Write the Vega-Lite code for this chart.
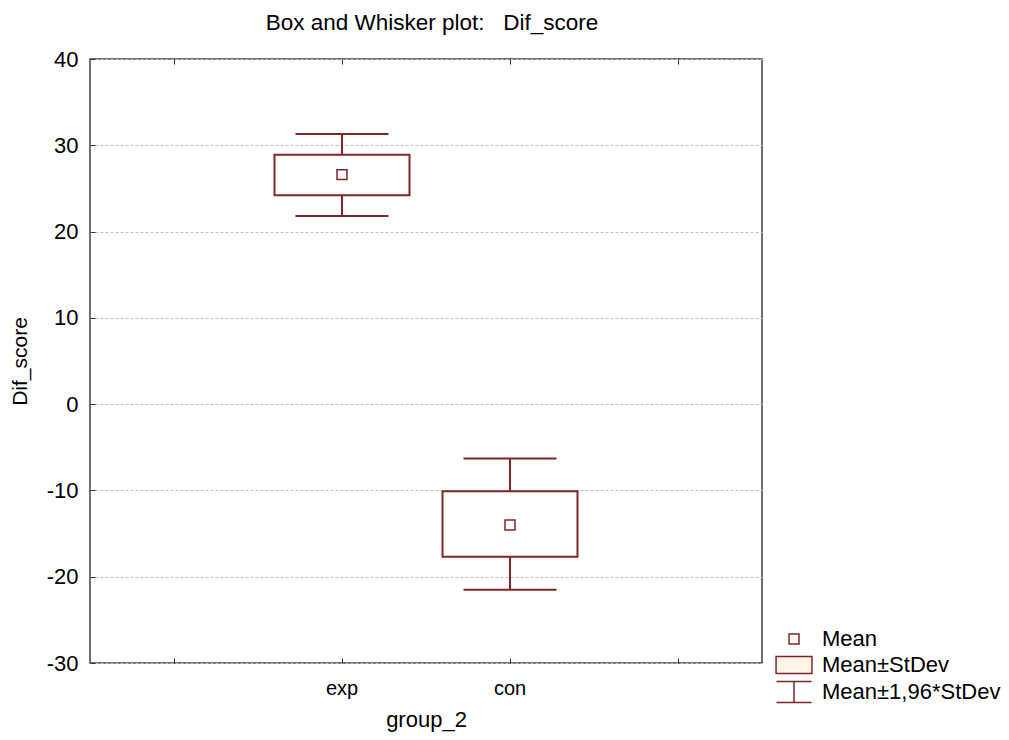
{
  "$schema": "https://vega.github.io/schema/vega-lite/v6.json",
  "width": 672,
  "height": 604,
  "autosize": {"type": "none"},
  "padding": {"left": 90, "top": 59, "right": 247, "bottom": 77},
  "background": "white",
  "title": {"text": "Box and Whisker plot:\u00a0\u00a0\u00a0Dif_score", "fontSize": 22.5, "font": "Liberation Sans", "fontWeight": "normal", "color": "#000", "offset": 14, "anchor": "middle", "dx": 6},
  "config": {
    "view": {"stroke": "#404040", "strokeWidth": 1.5},
    "axis": {"labelFont": "Liberation Sans", "titleFont": "Liberation Sans", "labelColor": "#000", "titleColor": "#000", "titleFontWeight": "normal", "tickColor": "#333", "domain": false},
    "legend": {"labelFont": "Liberation Sans", "labelFontSize": 22, "labelColor": "#000", "labelLimit": 400, "symbolStrokeWidth": 1.5, "symbolSize": 729, "rowPadding": 0, "labelOffset": 13.5, "padding": 0}
  },
  "data": {"values": [
    {"group": "exp", "mean": 26.6, "sdLow": 24.2, "sdHigh": 28.9, "wLow": 21.8, "wHigh": 31.3, "stat": "Mean"},
    {"group": "con", "mean": -14.0, "sdLow": -17.7, "sdHigh": -10.1, "wLow": -21.5, "wHigh": -6.3, "stat": "Mean"}
  ]},
  "resolve": {"axis": {"x": "independent"}},
  "layer": [
    {
      "mark": {"type": "rule", "color": "#802525", "strokeWidth": 2},
      "encoding": {
        "x": {"field": "group", "type": "nominal", "scale": {"type": "band", "domain": ["L", "exp", "con", "R"], "paddingInner": 0, "paddingOuter": 0},
              "axis": {"orient": "bottom", "title": "group_2", "titleFontSize": 22, "titlePadding": 11, "labelFontSize": 20, "labelAngle": 0, "tickSize": -5, "labelPadding": 20, "labelExpr": "datum.value == 'exp' || datum.value == 'con' ? datum.value : ''"}},
        "y": {"field": "wLow", "type": "quantitative", "scale": {"domain": [-30, 40], "nice": false, "zero": false},
              "axis": {"title": "Dif_score", "titleFontSize": 21, "labelFontSize": 22, "values": [-30, -20, -10, 0, 10, 20, 30, 40], "labelExpr": "'' + datum.value", "tickSize": -5, "labelPadding": 17, "titlePadding": 16, "grid": true, "gridDash": [3, 2], "gridColor": "#bdbdbd", "gridWidth": 1}},
        "y2": {"field": "wHigh"}
      }
    },
    {
      "mark": {"type": "tick", "color": "#802525", "thickness": 2, "size": 93, "orient": "horizontal", "opacity": 1},
      "encoding": {
        "x": {"field": "group", "type": "nominal", "axis": {"orient": "top", "title": null, "labels": false, "tickSize": -5, "grid": false}},
        "y": {"field": "wHigh", "type": "quantitative"}
      }
    },
    {
      "mark": {"type": "tick", "color": "#802525", "thickness": 2, "size": 93, "orient": "horizontal", "opacity": 1},
      "encoding": {
        "x": {"field": "group", "type": "nominal", "axis": null},
        "y": {"field": "wLow", "type": "quantitative"}
      }
    },
    {
      "mark": {"type": "bar", "fill": "white", "stroke": "#802525", "strokeWidth": 2, "size": 135},
      "encoding": {
        "x": {"field": "group", "type": "nominal", "axis": null},
        "y": {"field": "sdLow", "type": "quantitative"},
        "y2": {"field": "sdHigh"}
      }
    },
    {
      "mark": {"type": "point", "filled": true, "strokeWidth": 1.5, "size": 729, "opacity": 1},
      "encoding": {
        "x": {"field": "group", "type": "nominal", "axis": null},
        "y": {"field": "mean", "type": "quantitative"},
        "shape": {"field": "stat", "type": "nominal", "scale": {"domain": ["Mean", "Mean±StDev", "Mean±1,96*StDev"], "range": ["M-0.37,-0.37H0.37V0.37H-0.37Z", "M-1.33,-0.63H1.33V0.63H-1.33Z", "M-1.3,-0.78H1.3M0,-0.78V0.78M-1.3,0.78H1.3"]},
                  "legend": {"title": null, "orient": "none", "legendX": 689.5, "legendY": 565.5}},
        "fill": {"field": "stat", "type": "nominal", "scale": {"domain": ["Mean", "Mean±StDev", "Mean±1,96*StDev"], "range": ["#ffffff", "#fdf5e6", "#ffffff"]},
                 "legend": {"title": null, "orient": "none", "legendX": 689.5, "legendY": 565.5}},
        "stroke": {"field": "stat", "type": "nominal", "scale": {"domain": ["Mean", "Mean±StDev", "Mean±1,96*StDev"], "range": ["#802525", "#802525", "#802525"]},
                 "legend": {"title": null, "orient": "none", "legendX": 689.5, "legendY": 565.5}}
      }
    }
  ]
}
